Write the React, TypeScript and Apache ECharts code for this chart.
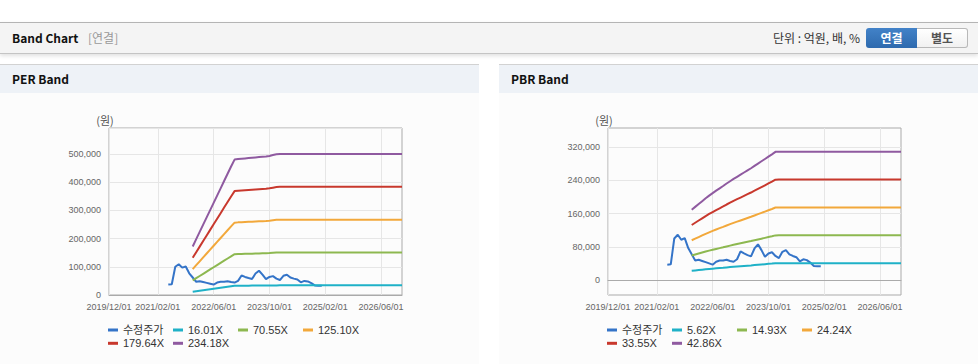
import React, { useEffect, useRef } from "react";
import * as echarts from "echarts";

// ---------- data ----------
const MONTHS = [
  "2019/12/01",
  "2020/01/01", "2020/02/01", "2020/03/01", "2020/04/01", "2020/05/01", "2020/06/01", "2020/07/01", "2020/08/01", "2020/09/01", "2020/10/01", "2020/11/01", "2020/12/01",
  "2021/01/01", "2021/02/01", "2021/03/01", "2021/04/01", "2021/05/01", "2021/06/01", "2021/07/01", "2021/08/01", "2021/09/01", "2021/10/01", "2021/11/01", "2021/12/01",
  "2022/01/01", "2022/02/01", "2022/03/01", "2022/04/01", "2022/05/01", "2022/06/01", "2022/07/01", "2022/08/01", "2022/09/01", "2022/10/01", "2022/11/01", "2022/12/01",
  "2023/01/01", "2023/02/01", "2023/03/01", "2023/04/01", "2023/05/01", "2023/06/01", "2023/07/01", "2023/08/01", "2023/09/01", "2023/10/01", "2023/11/01", "2023/12/01",
  "2024/01/01", "2024/02/01", "2024/03/01", "2024/04/01", "2024/05/01", "2024/06/01", "2024/07/01", "2024/08/01", "2024/09/01", "2024/10/01", "2024/11/01", "2024/12/01",
  "2025/01/01", "2025/02/01", "2025/03/01", "2025/04/01", "2025/05/01", "2025/06/01", "2025/07/01", "2025/08/01", "2025/09/01", "2025/10/01", "2025/11/01", "2025/12/01",
  "2026/01/01", "2026/02/01", "2026/03/01", "2026/04/01", "2026/05/01", "2026/06/01", "2026/07/01", "2026/08/01", "2026/09/01", "2026/10/01", "2026/11/01", "2026/12/01",
];
const X_TICK_LABELS = ["2019/12/01", "2021/02/01", "2022/06/01", "2023/10/01", "2025/02/01", "2026/06/01"];

const PRICE_NAME = "수정주가";
const PRICE_START = "2021/05/01";
const PRICE = [
  37000, 38000, 100000, 109000, 97000, 101000, 77000, 62000, 47000, 49000,
  46000, 43000, 40000, 37000, 44000, 47000, 47000, 49000, 46000, 44000,
  50000, 69000, 64000, 60000, 57000, 76000, 86000, 72000, 56000, 64000,
  67000, 58000, 53000, 68000, 72000, 62000, 58000, 55000, 45000, 50000,
  48000, 42000, 34000, 33000, 33000,
];

const BAND_START = "2021/12/01";
const EPS = [
  735, 845, 955, 1065, 1175, 1285, 1395, 1505, 1615, 1725, 1835, 1945, 2050,
  2058, 2063, 2068, 2073, 2078, 2083, 2088, 2093, 2098, 2105, 2118, 2130,
  2135, 2135, 2135, 2135, 2135, 2135, 2135, 2135, 2135, 2135, 2135, 2135,
  2135, 2135, 2135, 2135, 2135, 2135, 2135, 2135, 2135, 2135, 2135, 2135,
  2135, 2135, 2135, 2135, 2135, 2135, 2135, 2135, 2135, 2135, 2135, 2135,
];
const BPS = [
  3950, 4110, 4270, 4430, 4590, 4740, 4880, 5020, 5150, 5280, 5420, 5550, 5680,
  5800, 5920, 6040, 6160, 6280, 6410, 6540, 6670, 6800, 6930, 7060, 7200,
  7210, 7210, 7210, 7210, 7210, 7210, 7210, 7210, 7210, 7210, 7210, 7210,
  7210, 7210, 7210, 7210, 7210, 7210, 7210, 7210, 7210, 7210, 7210, 7210,
  7210, 7210, 7210, 7210, 7210, 7210, 7210, 7210, 7210, 7210, 7210, 7210,
];
const PER_MULTIPLES = [16.01, 70.55, 125.1, 179.64, 234.18];
const PBR_MULTIPLES = [5.62, 14.93, 24.24, 33.55, 42.86];

const PER_Y_TICKS = [0, 100000, 200000, 300000, 400000, 500000];
const PBR_Y_TICKS = [0, 80000, 160000, 240000, 320000];
const PER_Y_RANGE = [0, 592000];
const PBR_Y_RANGE = [-36000, 366000];

const COLORS = ["#3474c8", "#1fb1c7", "#8db850", "#f2a83b", "#c8382d", "#8f5aa0"];

const FONT = "'Liberation Sans', Arial, 'Noto Sans CJK KR', sans-serif";
const KFONT = "'Noto Sans CJK KR', 'Liberation Sans', sans-serif";

// ---------- helpers ----------
function pad(start: string, vals: number[]) {
  const s = MONTHS.indexOf(start);
  return MONTHS.map((_, i) => (i >= s && i - s < vals.length ? vals[i - s] : null));
}

function makeOption(base: number[], multiples: number[], yRange: number[], yTicks: number[], useInterval: boolean) {
  const baseData = pad(BAND_START, base);
  const names = [PRICE_NAME, ...multiples.map((m) => `${m.toFixed(2)}X`)];
  const series: any[] = [
    {
      name: PRICE_NAME,
      type: "line",
      data: pad(PRICE_START, PRICE),
      symbol: "none",
      showSymbol: false,
      lineStyle: { width: 2, color: COLORS[0] },
      itemStyle: { color: COLORS[0] },
      z: 2,
    },
    ...multiples.map((m, k) => ({
      name: names[k + 1],
      type: "line",
      data: baseData.map((v) => (v == null ? null : Math.round(v * m))),
      symbol: "none",
      showSymbol: false,
      lineStyle: { width: 2, color: COLORS[k + 1] },
      itemStyle: { color: COLORS[k + 1] },
      z: 3,
    })),
  ];
  const legendCommon = {
    orient: "horizontal",
    left: 108,
    padding: 0,
    itemGap: 5,
    itemWidth: 10,
    itemHeight: 3,
    icon: "rect",
    selectedMode: false,
    textStyle: { fontSize: 11, color: "#333", width: 45, lineHeight: 13, fontFamily: FONT },
  };
  const yAxis: any = {
    type: "value",
    min: yRange[0],
    max: yRange[1],
    name: "(원)",
    nameLocation: "end",
    nameGap: 3,
    nameTextStyle: { color: "#555", fontSize: 11, fontFamily: KFONT, align: "center", padding: [0, 8, 0, 0] },
    axisLine: { show: false },
    axisTick: { show: false },
    axisLabel: { color: "#666", fontSize: 9, fontFamily: FONT, margin: 8 },
    splitLine: { show: true, lineStyle: { color: "#e6e6e6", width: 1 } },
  };
  if (useInterval) {
    yAxis.interval = yTicks[1] - yTicks[0];
    yAxis.axisLabel.showMaxLabel = false;
  } else {
    yAxis.axisLabel.customValues = yTicks;
    yAxis.axisTick.customValues = yTicks;
  }
  return {
    animation: false,
    backgroundColor: "transparent",
    grid: {
      left: 109,
      top: 35,
      width: 293,
      height: 167,
      show: true,
      borderColor: "#aaaaaa",
      borderWidth: 1,
      backgroundColor: "transparent",
      outerBoundsMode: "none",
      containLabel: false,
    },
    legend: [
      { ...legendCommon, top: 230.5, data: names.slice(0, 4) },
      { ...legendCommon, top: 243.8, data: names.slice(4) },
    ],
    xAxis: {
      type: "category",
      data: MONTHS,
      boundaryGap: false,
      axisLine: { show: true, lineStyle: { color: "#aaaaaa" } },
      axisTick: { show: false },
      axisLabel: {
        color: "#666",
        fontSize: 9,
        fontFamily: FONT,
        margin: 7,
        interval: (_i: number, v: string) => X_TICK_LABELS.includes(v),
      },
      splitLine: {
        show: true,
        interval: (_i: number, v: string) => X_TICK_LABELS.includes(v),
        lineStyle: { color: "#e6e6e6", width: 1 },
      },
    },
    yAxis,
    series,
  };
}

function Chart({ option, style }: { option: any; style: React.CSSProperties }) {
  const ref = useRef<HTMLDivElement>(null);
  useEffect(() => {
    if (!ref.current) return;
    const chart = echarts.init(ref.current, undefined, { renderer: "svg" });
    chart.setOption(option);
    return () => chart.dispose();
  }, [option]);
  return <div ref={ref} style={style} />;
}

const perOption = makeOption(EPS, PER_MULTIPLES, PER_Y_RANGE, PER_Y_TICKS, true);
const pbrOption = makeOption(BPS, PBR_MULTIPLES, PBR_Y_RANGE, PBR_Y_TICKS, false);

function Panel({ left, title, option }: { left: number; title: string; option: any }) {
  return (
    <div style={{ position: "absolute", left, top: 64, width: 479, height: 299, borderTop: "1px solid #d2d2d2", borderBottom: "1px solid #d6d6d6", background: "#fcfcfc" }}>
      <div style={{ position: "absolute", left: 0, top: 0, width: 479, height: 28, background: "#eef2f7" }}>
        <span style={{ position: "absolute", left: 12, top: 6, fontSize: 12, fontWeight: 700, fontFamily: KFONT, color: "#111", lineHeight: "16px" }}>{title}</span>
      </div>
      <Chart option={option} style={{ position: "absolute", left: 0, top: 28, width: 479, height: 269 }} />
    </div>
  );
}

export default function App() {
  return (
    <div style={{ position: "fixed", left: 0, top: 0, width: 978, height: 364, background: "#fff", overflow: "hidden", fontFamily: KFONT }}>
      <div
        style={{
          position: "absolute",
          left: 0,
          top: 22,
          width: 978,
          height: 30,
          background: "#f4f4f4",
          borderTop: "1px solid #b4b4b4",
          borderBottom: "1px solid #c4c4c4",
          boxShadow: "0 2px 4px rgba(0,0,0,0.12)",
        }}
      >
        <span style={{ position: "absolute", left: 12, top: 7, fontSize: 12, fontWeight: 700, color: "#111", lineHeight: "16px" }}>Band Chart</span>
        <span style={{ position: "absolute", left: 88, top: 7, fontSize: 12, color: "#999", lineHeight: "16px" }}>[연결]</span>
        <span style={{ position: "absolute", right: 118, top: 7, fontSize: 12, color: "#333", lineHeight: "16px" }}>단위 : 억원, 배, %</span>
        <div
          style={{
            position: "absolute",
            left: 866,
            top: 5,
            width: 51,
            height: 20,
            background: "linear-gradient(#4282c8, #2e6aae)",
            borderRadius: "3px 0 0 3px",
            color: "#fff",
            fontSize: 12,
            fontWeight: 700,
            textAlign: "center",
            lineHeight: "20px",
          }}
        >
          연결
        </div>
        <div
          style={{
            position: "absolute",
            left: 917,
            top: 5,
            width: 50,
            height: 18,
            background: "linear-gradient(#ffffff, #f1f1f1)",
            border: "1px solid #b8b8b8",
            borderLeft: "none",
            borderRadius: "0 3px 3px 0",
            color: "#555",
            fontSize: 12,
            fontWeight: 700,
            textAlign: "center",
            lineHeight: "18px",
          }}
        >
          별도
        </div>
      </div>
      <Panel left={0} title="PER Band" option={perOption} />
      <Panel left={499} title="PBR Band" option={pbrOption} />
    </div>
  );
}
